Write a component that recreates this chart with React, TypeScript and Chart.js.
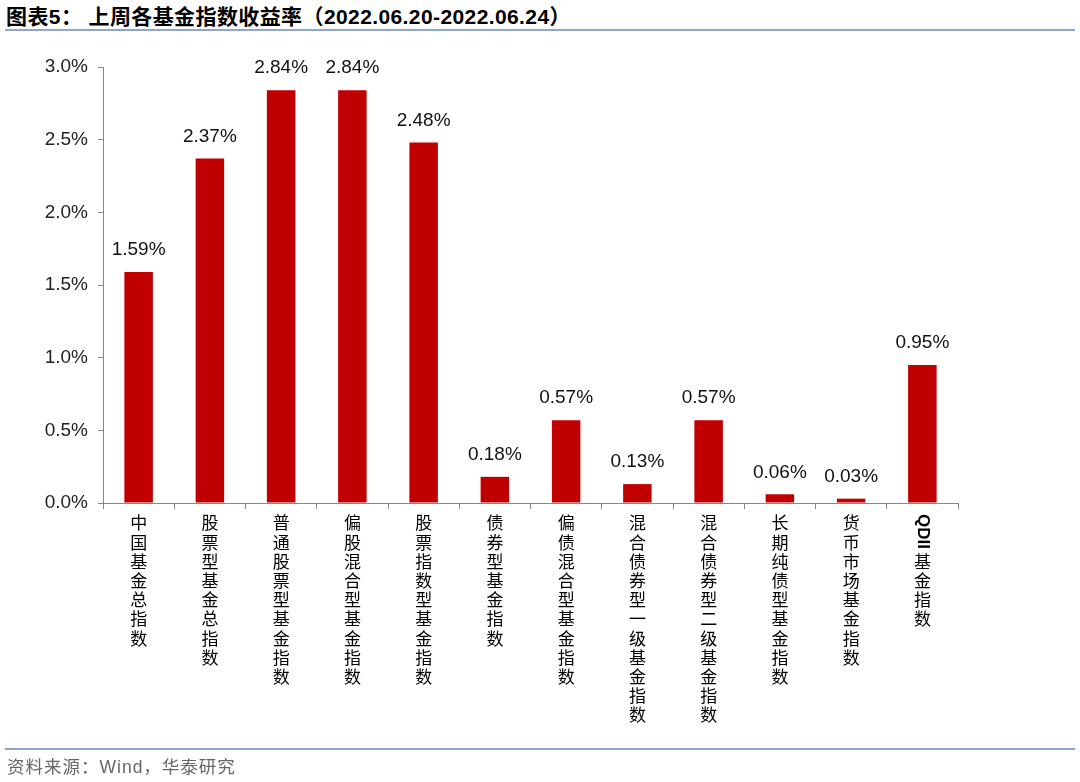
import React, { useEffect, useRef } from "react";
import { Chart, registerables } from "chart.js";

Chart.register(...registerables);

const categories: string[] = [
  "中国基金总指数",
  "股票型基金总指数",
  "普通股票型基金指数",
  "偏股混合型基金指数",
  "股票指数型基金指数",
  "债券型基金指数",
  "偏债混合型基金指数",
  "混合债券型一级基金指数",
  "混合债券型二级基金指数",
  "长期纯债型基金指数",
  "货币市场基金指数",
  "QDII基金指数",
];
const returns: number[] = [1.59, 2.37, 2.84, 2.84, 2.48, 0.18, 0.57, 0.13, 0.57, 0.06, 0.03, 0.95];
const yTicks: number[] = [0, 0.5, 1.0, 1.5, 2.0, 2.5, 3.0];

const LATIN = '"Liberation Sans", Arial, sans-serif';
const CJK = '"Noto Sans CJK SC", sans-serif';

const valueLabels = {
  id: "valueLabels",
  afterDatasetsDraw(chart: any) {
    const ctx = chart.ctx;
    const meta = chart.getDatasetMeta(0);
    ctx.save();
    ctx.font = `19px ${LATIN}`;
    ctx.fillStyle = "#111";
    ctx.textAlign = "center";
    ctx.textBaseline = "middle";
    meta.data.forEach((bar: any, i: number) => {
      const v = chart.data.datasets[0].data[i] as number;
      ctx.fillText(v.toFixed(2) + "%", bar.x, bar.y - 22);
    });
    ctx.restore();
  },
};

const verticalXLabels = {
  id: "verticalXLabels",
  afterDraw(chart: any) {
    const ctx = chart.ctx;
    const xs = chart.scales.x;
    const top = xs.top + 20;
    const step = 19.2;
    ctx.save();
    ctx.fillStyle = "#000";
    ctx.textAlign = "center";
    ctx.textBaseline = "middle";
    (chart.data.labels as string[]).forEach((label: string, i: number) => {
      const x = xs.getPixelForValue(i);
      let slot = 0;
      let rest = label;
      const m = label.match(/^[A-Za-z]+/);
      if (m) {
        const latin = m[0];
        ctx.save();
        ctx.font = `bold 17px ${LATIN}`;
        const w = ctx.measureText(latin).width;
        ctx.translate(x, top - 9);
        ctx.rotate(Math.PI / 2);
        ctx.textAlign = "left";
        ctx.fillText(latin, 0, 0);
        ctx.restore();
        slot = Math.round(w / step);
        rest = label.slice(latin.length);
      }
      ctx.font = `17px ${CJK}`;
      Array.from(rest).forEach((ch, k) => {
        ctx.fillText(ch, x, top + (slot + k) * step);
      });
    });
    ctx.restore();
  },
};

export default function App() {
  const canvasRef = useRef<HTMLCanvasElement | null>(null);

  useEffect(() => {
    if (!canvasRef.current) return;
    const chart = new Chart(canvasRef.current, {
      type: "bar",
      data: {
        labels: categories,
        datasets: [
          {
            data: returns,
            backgroundColor: "#C00000",
            borderWidth: 0,
            barPercentage: 0.4,
            categoryPercentage: 1,
          },
        ],
      },
      options: {
        responsive: false,
        animation: false,
        layout: { padding: { top: 67, right: 122, left: 0, bottom: 0 } },
        plugins: {
          legend: { display: false },
          tooltip: { enabled: false },
          title: { display: false },
        },
        scales: {
          x: {
            type: "category",
            grid: {
              display: true,
              drawOnChartArea: false,
              drawTicks: true,
              tickLength: 6,
              offset: true,
              color: "#888",
            },
            border: { display: true, color: "#888", width: 1 },
            ticks: { display: false },
            afterFit: (s: any) => {
              s.height = 279;
            },
          },
          y: {
            min: 0,
            max: 3,
            afterBuildTicks: (s: any) => {
              s.ticks = yTicks.map((v) => ({ value: v }));
            },
            grid: {
              display: true,
              drawOnChartArea: false,
              drawTicks: true,
              tickLength: 5,
              color: "#888",
            },
            border: { display: true, color: "#888", width: 1 },
            ticks: {
              color: "#222",
              font: { family: LATIN, size: 19 },
              padding: 10,
              callback: (v: any) => Number(v).toFixed(1) + "%",
            },
            afterFit: (s: any) => {
              s.width = 103;
            },
          },
        },
      },
      plugins: [valueLabels, verticalXLabels],
    });
    return () => chart.destroy();
  }, []);

  return (
    <div style={{ position: "absolute", left: 0, top: 0, width: 1080, height: 782, background: "#fff" }}>
      <div
        style={{
          position: "absolute",
          left: 6,
          top: 5,
          fontSize: 21,
          fontWeight: "bold",
          fontFamily: `"Liberation Sans", ${CJK}`,
          color: "#000",
          whiteSpace: "nowrap",
          lineHeight: "24px",
          letterSpacing: "0.4px",
        }}
      >
        图表5：&nbsp;上周各基金指数收益率（2022.06.20-2022.06.24）
      </div>
      <div style={{ position: "absolute", left: 5, top: 29, width: 1070, height: 2, background: "#8EA6CE" }} />
      <canvas ref={canvasRef} width={1080} height={782} style={{ position: "absolute", left: 0, top: 0 }} />
      <div style={{ position: "absolute", left: 5, top: 748, width: 1070, height: 2, background: "#8EA6CE" }} />
      <div
        style={{
          position: "absolute",
          left: 7,
          top: 756,
          fontSize: 17.5,
          fontFamily: `"Liberation Sans", ${CJK}`,
          color: "#666",
          whiteSpace: "nowrap",
          lineHeight: "22px",
          letterSpacing: "1px",
        }}
      >
        资料来源：Wind，华泰研究
      </div>
    </div>
  );
}
